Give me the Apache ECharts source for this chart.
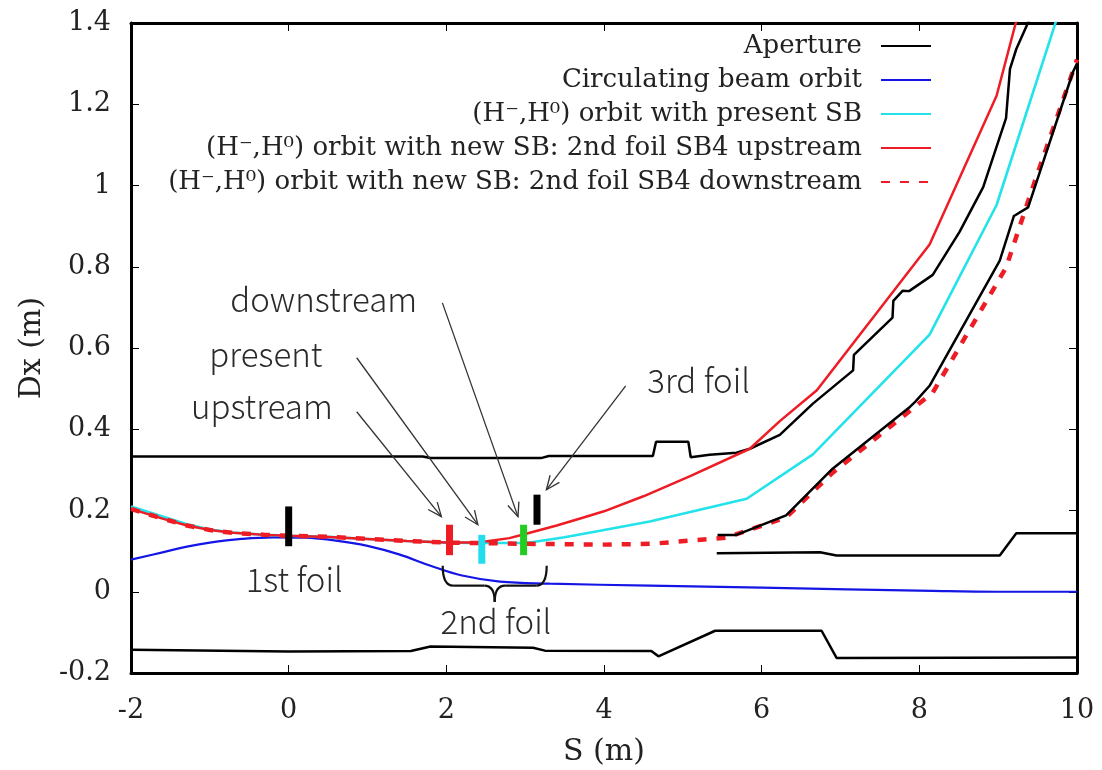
<!DOCTYPE html>
<html>
<head>
<meta charset="utf-8">
<script src="https://cdn.jsdelivr.net/npm/echarts@6.0.0/dist/echarts.min.js"></script>
<style>
  html, body { margin: 0; padding: 0; background: #fff; }
  #chart { width: 1102px; height: 770px; }
</style>
</head>
<body>
<div id="chart"></div>
<script>
// axes
var xTicks = [-2, 0, 2, 4, 6, 8, 10];
var yTicks = [-0.2, 0, 0.2, 0.4, 0.6, 0.8, 1.0, 1.2, 1.4];

var legendNames = [
  'Aperture',
  'Circulating beam orbit',
  '(H\u207B,H\u2070) orbit with present SB',
  '(H\u207B,H\u2070) orbit with new SB: 2nd foil SB4 upstream',
  '(H\u207B,H\u2070) orbit with new SB: 2nd foil SB4 downstream'
];

// aperture, [S, Dx]
var apertureOuter = [[-2, 0.333], [1.7, 0.333], [1.8, 0.329], [3.2, 0.329], [3.3, 0.334], [4.62, 0.334],
  [4.66, 0.369], [5.07, 0.369], [5.1, 0.331], [5.34, 0.337], [5.68, 0.342], [5.85, 0.352], [6.23, 0.386],
  [6.65, 0.463], [7.16, 0.545], [7.17, 0.583], [7.66, 0.675], [7.67, 0.716], [7.79, 0.741], [7.87, 0.74],
  [8.17, 0.78], [8.51, 0.886], [8.81, 0.996], [9.1, 1.166], [9.15, 1.287], [9.23, 1.336], [9.4, 1.41]];
var apertureInner = [[5.44, 0.14], [5.68, 0.14], [6.31, 0.188], [6.9, 0.303], [7.88, 0.455], [7.95, 0.468],
  [8.13, 0.507], [9.02, 0.815], [9.2, 0.925], [9.38, 0.946], [9.95, 1.28], [10, 1.3]];
var apertureStep = [[5.43, 0.095], [6.74, 0.097], [6.95, 0.089], [9.02, 0.089], [9.23, 0.144], [10, 0.144]];
var apertureBottom = [[-2, -0.143], [0, -0.147], [1.55, -0.146], [1.8, -0.135], [3.1, -0.138], [3.25, -0.145],
  [4.6, -0.146], [4.69, -0.159], [5.41, -0.096], [6.76, -0.096], [6.95, -0.163], [10, -0.162]];

// orbits, [S, Dx]
var circulatingOrbit = [[-2, 0.079], [-1.6, 0.097], [-1.29, 0.111], [-1.0, 0.121], [-0.6, 0.13], [-0.2, 0.134],
  [0.2, 0.133], [0.6, 0.126], [1.0, 0.113], [1.4, 0.092], [1.8, 0.064], [2.2, 0.04], [2.68, 0.025],
  [3.31, 0.02], [4.58, 0.015], [6, 0.01], [8.17, 0.002], [9, 0], [10, 0]];
var orbitPresent = [[-2, 0.21], [-1.6, 0.185], [-1.29, 0.166], [-1.0, 0.153], [-0.71, 0.146], [-0.3, 0.14],
  [0, 0.138], [0.5, 0.135], [1.0, 0.13], [1.5, 0.125], [2.0, 0.121], [2.42, 0.12], [3.02, 0.12], [3.5, 0.134],
  [3.95, 0.15], [4.58, 0.173], [5.81, 0.229], [6.65, 0.338], [8.13, 0.633], [8.98, 0.952], [9.76, 1.42]];
var orbitUpstream = [[-2, 0.204], [-1.6, 0.18], [-1.29, 0.163], [-1.0, 0.152], [-0.71, 0.145], [-0.3, 0.14],
  [0, 0.138], [0.5, 0.135], [1.0, 0.13], [1.5, 0.125], [2.0, 0.121], [2.4, 0.121], [2.8, 0.132], [3.0, 0.142],
  [3.4, 0.163], [3.73, 0.182], [4.0, 0.198], [4.5, 0.235], [5.1, 0.285], [5.85, 0.352], [6.23, 0.42],
  [6.7, 0.496], [8.13, 0.855], [8.98, 1.221], [9.25, 1.42]];
var orbitDownstream = [[-2, 0.204], [-1.6, 0.18], [-1.29, 0.163], [-1.0, 0.152], [-0.71, 0.145], [-0.3, 0.14],
  [0, 0.138], [0.5, 0.135], [1.0, 0.13], [1.5, 0.125], [2.0, 0.121], [2.4, 0.12], [3.0, 0.118], [4.0, 0.116],
  [4.6, 0.118], [5.55, 0.133], [6.31, 0.183], [6.9, 0.293], [8.17, 0.49], [9.1, 0.798], [9.44, 0.996], [10, 1.31]];

// foil positions
var foilS = [0, 2.04, 2.45, 2.98, 3.15];
var foilLow = [0.112, 0.09, 0.069, 0.09, 0.165];
var foilHigh = [0.21, 0.165, 0.14, 0.165, 0.239];

// annotations
var arrowFrom = [[0.863, 0.443], [0.863, 0.576], [1.95, 0.711], [4.275, 0.507]];
var arrowTo = [[1.937, 0.185], [2.40, 0.165], [2.909, 0.185], [3.269, 0.251]];
var noteTexts = ['downstream', 'present', 'upstream', '3rd foil', '1st foil', '2nd foil'];
var noteS = [0.444, -0.29, -0.34, 5.2, 0.07, 2.63];
var noteDx = [0.719, 0.584, 0.457, 0.519, 0.031, -0.074];
var braceS = [1.954, 3.273];
var braceDx = [0.064, -0.025];

var chart = echarts.init(document.getElementById('chart'));

var serif = 'DejaVu Serif';
var foilColors = ['#000', '#ee1c24', '#22ddee', '#22cc22', '#000'];

function frameAxis(pos, withLabel) {
  var horiz = (pos === 'bottom' || pos === 'top');
  var ticks = horiz ? xTicks : yTicks;
  return {
    type: 'value',
    position: pos,
    min: ticks[0],
    max: ticks[ticks.length - 1],
    interval: horiz ? ticks[1] - ticks[0] : 0.2,
    axisLine: { show: true, onZero: false, lineStyle: { color: '#000', width: 3 } },
    axisTick: { show: true, inside: true, length: 8, lineStyle: { color: '#000', width: 1 } },
    axisLabel: { show: withLabel, fontFamily: serif, fontSize: 27, color: '#222' },
    splitLine: { show: false }
  };
}

var xBottom = frameAxis('bottom', true);
xBottom.name = 'S (m)';
xBottom.nameLocation = 'middle';
xBottom.nameGap = 64;
xBottom.nameTextStyle = { fontFamily: serif, fontSize: 30, color: '#222' };
xBottom.axisLabel.margin = 24;

var yLeft = frameAxis('left', true);
yLeft.name = 'Dx (m)';
yLeft.nameLocation = 'middle';
yLeft.nameGap = 84;
yLeft.nameTextStyle = { fontFamily: serif, fontSize: 30, color: '#222' };
yLeft.axisLabel.margin = 20;

function lineSeries(name, data, color, width, dashed, smooth) {
  return {
    name: name,
    type: 'line',
    data: data,
    symbol: 'none',
    smooth: smooth || false,
    clip: true,
    silent: true,
    lineStyle: { color: color, width: width, type: dashed ? [9, 10] : 'solid' },
    itemStyle: { color: color }
  };
}

var annotFont = { fontFamily: 'Noto Sans CJK JP', fontWeight: 300, fontSize: 33 };

var option = {
  animation: false,
  grid: { left: 131, right: 25, top: 23, bottom: 97, outerBoundsMode: 'none' },
  xAxis: [xBottom, frameAxis('top', false)],
  yAxis: [yLeft, frameAxis('right', false)],
  legend: {
    data: legendNames,
    orient: 'vertical',
    right: 170,
    top: 33,
    padding: 0,
    align: 'right',
    itemWidth: 50,
    itemHeight: 14,
    itemGap: 8,
    selectedMode: false,
    itemStyle: { opacity: 0 },
    textStyle: { fontFamily: serif, fontSize: 26, color: '#222', lineHeight: 26, padding: [0, 14, 0, 0] }
  },
  series: [
    lineSeries(legendNames[0], apertureOuter, '#000', 2.5),
    lineSeries(legendNames[1], circulatingOrbit, '#1515e6', 2.2, false, 0.4),
    lineSeries(legendNames[2], orbitPresent, '#22e2ea', 2.6),
    lineSeries(legendNames[3], orbitUpstream, '#ee1c24', 2.5),
    lineSeries(legendNames[4], orbitDownstream, '#ee1c24', 4.5, true),
    lineSeries(legendNames[0], apertureInner, '#000', 2.5),
    lineSeries(legendNames[0], apertureStep, '#000', 2.5),
    lineSeries(legendNames[0], apertureBottom, '#000', 2.5),
    {
      // foil markers
      type: 'custom',
      silent: true,
      z: 10,
      data: foilS.map(function (s, i) { return [s, foilLow[i], foilHigh[i]]; }),
      renderItem: function (params, api) {
        var a = api.coord([api.value(0), api.value(1)]);
        var b = api.coord([api.value(0), api.value(2)]);
        return {
          type: 'line',
          shape: { x1: a[0], y1: a[1], x2: b[0], y2: b[1] },
          style: { stroke: foilColors[params.dataIndex], lineWidth: 7 }
        };
      }
    },
    {
      // arrows
      type: 'custom',
      silent: true,
      z: 9,
      data: arrowFrom.map(function (p, i) { return [p[0], p[1], arrowTo[i][0], arrowTo[i][1]]; }),
      renderItem: function (params, api) {
        var p0 = api.coord([api.value(0), api.value(1)]);
        var p1 = api.coord([api.value(2), api.value(3)]);
        var ang = Math.atan2(p0[1] - p1[1], p0[0] - p1[0]);
        var len = 15, spread = 0.4;
        var h1 = [p1[0] + len * Math.cos(ang + spread), p1[1] + len * Math.sin(ang + spread)];
        var h2 = [p1[0] + len * Math.cos(ang - spread), p1[1] + len * Math.sin(ang - spread)];
        var st = { stroke: '#333', lineWidth: 1.3, fill: null };
        return {
          type: 'group',
          children: [
            { type: 'line', shape: { x1: p0[0], y1: p0[1], x2: p1[0], y2: p1[1] }, style: st },
            { type: 'polyline', shape: { points: [h1, p1, h2] }, style: st }
          ]
        };
      }
    },
    {
      // brace under the 2nd foil
      type: 'custom',
      silent: true,
      z: 9,
      data: [[braceS[0], braceDx[0], braceS[1], braceDx[1]]],
      renderItem: function (params, api) {
        var l = api.coord([api.value(0), api.value(1)]);
        var r = api.coord([api.value(2), api.value(1)]);
        var tipY = api.coord([api.value(0), api.value(3)])[1];
        var yt = l[1], h = tipY - yt, w = r[0] - l[0];
        var ym = yt + 0.55 * h, m = (l[0] + r[0]) / 2, d = 0.1 * w;
        var st = { stroke: '#111', lineWidth: 2.2, fill: null };
        return {
          type: 'group',
          children: [
            { type: 'bezierCurve', shape: { x1: l[0], y1: yt, x2: l[0] + d, y2: ym, cpx1: l[0], cpy1: ym }, style: st },
            { type: 'line', shape: { x1: l[0] + d, y1: ym, x2: m - d, y2: ym }, style: st },
            { type: 'bezierCurve', shape: { x1: m - d, y1: ym, x2: m, y2: tipY, cpx1: m, cpy1: ym }, style: st },
            { type: 'bezierCurve', shape: { x1: m, y1: tipY, x2: m + d, y2: ym, cpx1: m, cpy1: ym }, style: st },
            { type: 'line', shape: { x1: m + d, y1: ym, x2: r[0] - d, y2: ym }, style: st },
            { type: 'bezierCurve', shape: { x1: r[0] - d, y1: ym, x2: r[0], y2: yt, cpx1: r[0], cpy1: ym }, style: st }
          ]
        };
      }
    },
    {
      // annotation texts
      type: 'custom',
      silent: true,
      z: 9,
      data: noteS.map(function (s, i) { return [s, noteDx[i]]; }),
      renderItem: function (params, api) {
        var p = api.coord([api.value(0), api.value(1)]);
        return {
          type: 'text',
          style: {
            text: noteTexts[params.dataIndex],
            x: p[0], y: p[1],
            align: 'center', verticalAlign: 'middle',
            fontFamily: annotFont.fontFamily, fontWeight: annotFont.fontWeight,
            fontSize: annotFont.fontSize, fill: '#2a2a2a'
          }
        };
      }
    }
  ]
};

chart.setOption(option);
</script>
</body>
</html>
